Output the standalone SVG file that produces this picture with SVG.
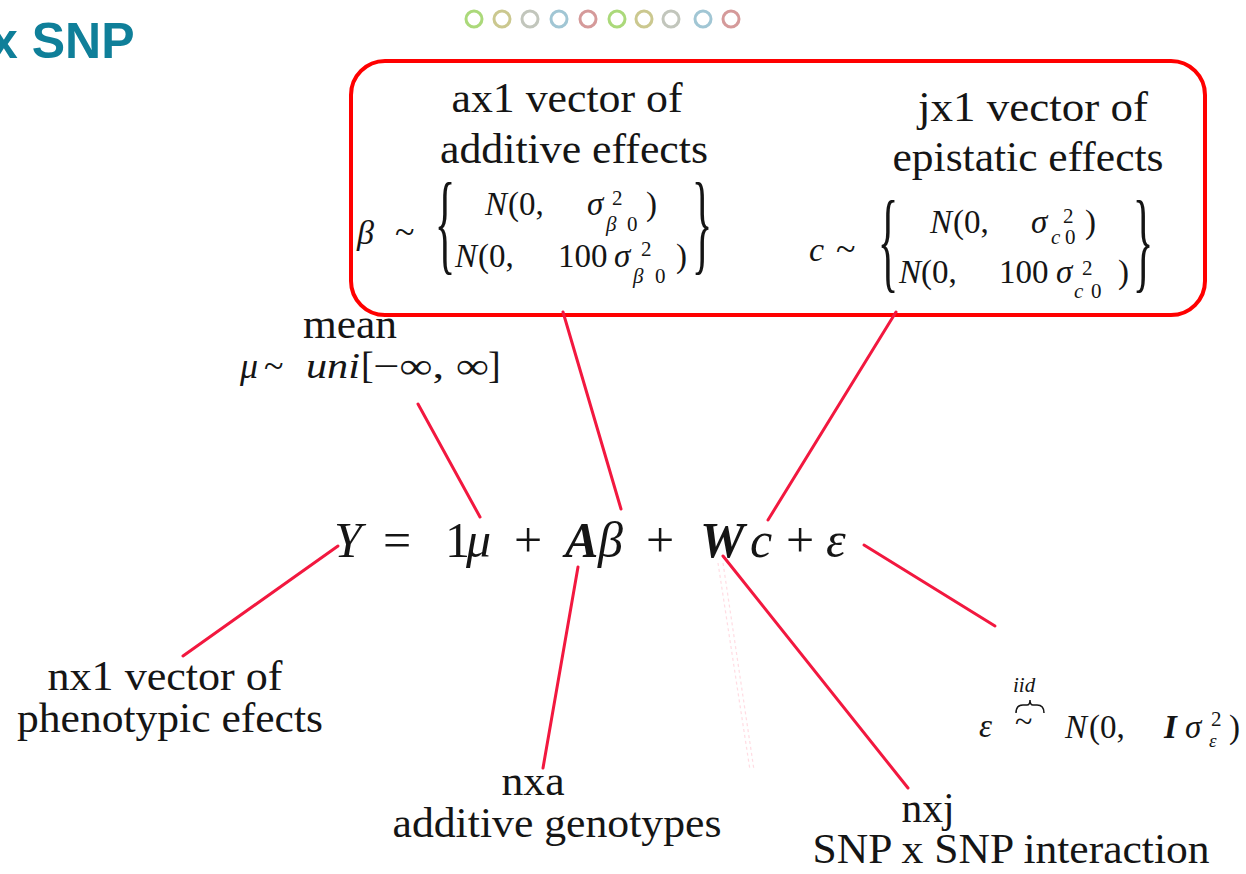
<svg xmlns="http://www.w3.org/2000/svg" width="1246" height="874" viewBox="0 0 1246 874">
<style>
text{font-family:"Liberation Serif","Times New Roman",serif;fill:#151515}
.lbl{font-size:43px;text-anchor:middle}
.i{font-style:italic}
.b{font-style:italic;font-weight:bold}
.brace{text-anchor:middle;font-size:113px}
.conn line{stroke:#f2183f;stroke-width:3;stroke-linecap:round}
.ring{fill:none;stroke-width:3;opacity:0.75}
</style>
<rect width="1246" height="874" fill="#ffffff"/>
<g id="title">
<text x="-10" y="58" style="font-family:'Liberation Sans',Arial,sans-serif;fill:#0f7f99" font-weight="bold" font-size="50">x SNP</text>
</g>
<g id="rings">
<circle class="ring" cx="474" cy="19" r="8" stroke="#8fcc4e"/>
<circle class="ring" cx="502" cy="19" r="8" stroke="#b9b66a"/>
<circle class="ring" cx="530" cy="19" r="8" stroke="#adb3a5"/>
<circle class="ring" cx="559" cy="19" r="8" stroke="#82b3c6"/>
<circle class="ring" cx="588" cy="19" r="8" stroke="#c77878"/>
<circle class="ring" cx="617" cy="19" r="8" stroke="#8fcc4e"/>
<circle class="ring" cx="644" cy="19" r="8" stroke="#b9b66a"/>
<circle class="ring" cx="671" cy="19" r="8" stroke="#adb3a5"/>
<circle class="ring" cx="703" cy="19" r="8" stroke="#82b3c6"/>
<circle class="ring" cx="731" cy="19" r="8" stroke="#c77878"/>
</g>
<g id="priorbox">
<rect x="351" y="61" width="854" height="254" rx="34" ry="34" fill="none" stroke="#ff0000" stroke-width="4"/>
</g>
<g class="conn" id="connectors">
<line x1="418" y1="404" x2="480" y2="517"/>
<line x1="563" y1="312" x2="621" y2="509"/>
<line x1="896" y1="312" x2="768" y2="520"/>
<line x1="338" y1="546" x2="183" y2="656"/>
<line x1="578" y1="567" x2="543" y2="768"/>
<line x1="723" y1="556" x2="908" y2="788"/>
<line x1="864" y1="545" x2="995" y2="626"/>
</g>
<g id="faint" opacity="0.45" stroke="#ffb3c2" stroke-width="1.2" stroke-dasharray="3 3">
<line x1="718" y1="563" x2="750" y2="770"/>
<line x1="723" y1="563" x2="754" y2="770"/>
</g>
<g id="additive-effects">
<text class="lbl" x="567" y="112" textLength="231" lengthAdjust="spacingAndGlyphs">ax1 vector of</text>
<text class="lbl" x="574" y="163" textLength="268" lengthAdjust="spacingAndGlyphs">additive effects</text>
<text class="i" x="357" y="244" font-size="34">β</text>
<text x="395" y="244" font-size="36">~</text>
<text class="brace" transform="translate(445,260) scale(0.38,1)">{</text>
<text class="i" x="485" y="215" font-size="33">N</text>
<text x="508" y="215" font-size="33">(0,</text>
<text class="i" x="587" y="215" font-size="33">σ</text>
<text x="612" y="205" font-size="21">2</text>
<text class="i" x="606" y="231" font-size="21">β</text>
<text x="627" y="231" font-size="21">0</text>
<text x="646" y="215" font-size="33">)</text>
<text class="i" x="455" y="267" font-size="33">N</text>
<text x="478" y="267" font-size="33">(0,</text>
<text x="558" y="267" font-size="33">100</text>
<text class="i" x="614" y="267" font-size="33">σ</text>
<text x="641" y="256" font-size="21">2</text>
<text class="i" x="633" y="283" font-size="21">β</text>
<text x="655" y="283" font-size="21">0</text>
<text x="676" y="267" font-size="33">)</text>
<text class="brace" transform="translate(702,260) scale(0.38,1)">}</text>
</g>
<g id="epistatic-effects">
<text class="lbl" x="1033" y="121" textLength="230" lengthAdjust="spacingAndGlyphs">jx1 vector of</text>
<text class="lbl" x="1028" y="171" textLength="271" lengthAdjust="spacingAndGlyphs">epistatic effects</text>
<text class="i" x="809" y="261" font-size="34">c</text>
<text x="836" y="261" font-size="36">~</text>
<text class="brace" transform="translate(888,278) scale(0.38,1)">{</text>
<text class="i" x="930" y="233" font-size="33">N</text>
<text x="953" y="233" font-size="33">(0,</text>
<text class="i" x="1031" y="233" font-size="33">σ</text>
<text x="1063" y="223" font-size="21">2</text>
<text class="i" x="1051" y="244" font-size="21">c</text>
<text x="1065" y="244" font-size="21">0</text>
<text x="1085" y="233" font-size="33">)</text>
<text class="i" x="899" y="283" font-size="33">N</text>
<text x="921" y="283" font-size="33">(0,</text>
<text x="999" y="283" font-size="33">100</text>
<text class="i" x="1056" y="283" font-size="33">σ</text>
<text x="1082" y="275" font-size="21">2</text>
<text class="i" x="1074" y="298" font-size="21">c</text>
<text x="1091" y="298" font-size="21">0</text>
<text x="1118" y="283" font-size="33">)</text>
<text class="brace" transform="translate(1143,278) scale(0.38,1)">}</text>
</g>
<g id="mean">
<text class="lbl" x="350" y="338" font-size="40" textLength="94" lengthAdjust="spacingAndGlyphs">mean</text>
<text class="i" x="240" y="378" font-size="36">μ</text>
<text x="264" y="378" font-size="36">~</text>
<text class="i" x="306" y="378" font-size="36" textLength="54" lengthAdjust="spacingAndGlyphs">uni</text>
<text x="361" y="378" font-size="38">[</text>
<text x="373" y="378" font-size="36" textLength="116" lengthAdjust="spacingAndGlyphs">−∞, ∞</text>
<text x="488" y="378" font-size="38">]</text>
</g>
<g id="equation">
<text class="i" x="334" y="557" font-size="50">Y</text>
<text x="383" y="557" font-size="50">=</text>
<text x="445" y="557" font-size="50">1</text>
<text class="i" x="466" y="557" font-size="50">μ</text>
<text x="514" y="557" font-size="50">+</text>
<text class="b" x="565" y="557" font-size="50">A</text>
<text class="i" x="598" y="557" font-size="50">β</text>
<text x="646" y="557" font-size="50">+</text>
<text class="b" x="700" y="557" font-size="50">W</text>
<text class="i" x="750" y="557" font-size="50">c</text>
<text x="786" y="557" font-size="50">+</text>
<text class="i" x="826" y="557" font-size="50">ε</text>
</g>
<g id="phenotypes">
<text class="lbl" x="165" y="690" textLength="235" lengthAdjust="spacingAndGlyphs">nx1 vector of</text>
<text class="lbl" x="170" y="732" textLength="306" lengthAdjust="spacingAndGlyphs">phenotypic efects</text>
</g>
<g id="additive-genotypes">
<text class="lbl" x="533" y="795" textLength="63" lengthAdjust="spacingAndGlyphs">nxa</text>
<text class="lbl" x="557" y="837" textLength="329" lengthAdjust="spacingAndGlyphs">additive genotypes</text>
</g>
<g id="interaction">
<text class="lbl" x="928" y="822" textLength="53" lengthAdjust="spacingAndGlyphs">nxj</text>
<text class="lbl" x="1011" y="863" textLength="397" lengthAdjust="spacingAndGlyphs">SNP x SNP interaction</text>
</g>
<g id="error">
<text class="i" x="979" y="737" font-size="33">ε</text>
<text class="i" x="1013" y="692" font-size="21">iid</text>
<path d="M1016,713 Q1016,705 1023,705 L1027,705 Q1030,705 1030,700 Q1030,705 1033,705 L1037,705 Q1044,705 1044,713" fill="none" stroke="#151515" stroke-width="1.5"/>
<text x="1015" y="732" font-size="32">~</text>
<text class="i" x="1065" y="738" font-size="33">N</text>
<text x="1089" y="738" font-size="33">(0,</text>
<text class="b" x="1164" y="738" font-size="33">I</text>
<text class="i" x="1185" y="738" font-size="33">σ</text>
<text x="1211" y="726" font-size="21">2</text>
<text class="i" x="1209" y="747" font-size="19">ε</text>
<text x="1229" y="738" font-size="33">)</text>
</g>
</svg>
